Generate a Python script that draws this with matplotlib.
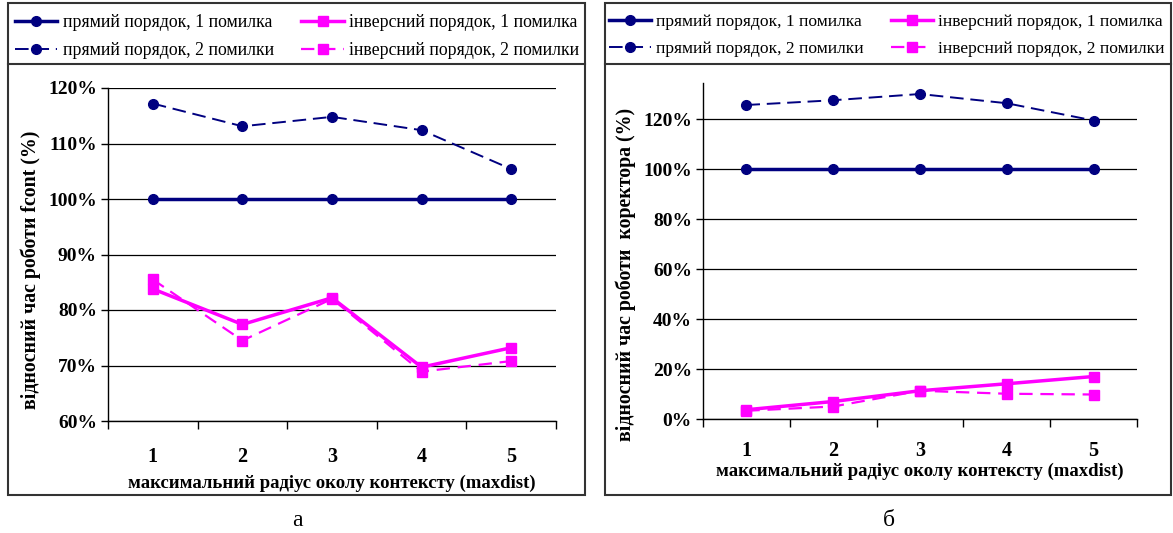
import numpy as np
import matplotlib
matplotlib.use("Agg")
import matplotlib.pyplot as plt
from matplotlib.patches import Rectangle

plt.rcParams['font.family'] = ['Liberation Serif', 'DejaVu Serif']

categories = ['1', '2', '3', '4', '5']
labels = ['прямий порядок, 1 помилка', 'прямий порядок, 2 помилки',
          'інверсний порядок, 1 помилка', 'інверсний порядок, 2 помилки']

# chart a: relative time of fcont (%)
a_direct_1 = [100, 100, 100, 100, 100]
a_direct_2 = [117.2, 113.1, 114.8, 112.4, 105.4]
a_inverse_1 = [83.8, 77.4, 82.2, 69.7, 73.2]
a_inverse_2 = [85.5, 74.5, 82.0, 68.9, 70.8]

# chart b: relative time of corrector (%)
b_direct_1 = [100, 100, 100, 100, 100]
b_direct_2 = [125.6, 127.5, 130.0, 126.3, 119.4]
b_inverse_1 = [3.7, 7.0, 11.3, 14.1, 17.0]
b_inverse_2 = [3.3, 5.0, 11.3, 10.1, 9.8]

a_yticks = [60, 70, 80, 90, 100, 110, 120]
b_yticks = [0, 20, 40, 60, 80, 100, 120]

xlabel = 'максимальний радіус околу контексту (maxdist)'
ylabel_a = 'відносний час роботи fcont (%)'
ylabel_b = 'відносний час роботи  коректора (%)'

W, H = 1173, 533
fig = plt.figure(figsize=(W / 100, H / 100), dpi=100)

NAVY = '#000080'
MAG = '#FF00FF'


def fx(px):
    return px / W


def fy(py):
    return 1 - py / H


def draw(ax, series, yticks, ylim, ylabel, tickpad, xlabelpad, ylabel_y):
    x = np.arange(len(categories))
    d1, d2, i1, i2 = series
    h = []
    h += ax.plot(x, d1, color=NAVY, lw=2.5, marker='o', ms=7, label=labels[0])
    h += ax.plot(x, d2, color=NAVY, lw=1.4, ls=(0, (7, 3.5)), marker='o', ms=7, label=labels[1])
    h += ax.plot(x, i1, color=MAG, lw=2.5, marker='s', ms=7.5, label=labels[2])
    h += ax.plot(x, i2, color=MAG, lw=1.6, ls=(0, (6, 3.5)), marker='s', ms=7.5, label=labels[3])
    ax.set_xlim(-0.5, len(categories) - 0.5)
    ax.set_ylim(*ylim)
    ax.set_xticks(np.arange(-0.5, len(categories), 1))
    ax.set_xticklabels([])
    ax.tick_params(axis='x', which='major', length=6, direction='out', width=1)
    ax.set_xticks(x, minor=True)
    ax.set_xticklabels(categories, minor=True, fontsize=14.5, fontweight='bold')
    ax.tick_params(axis='x', which='minor', length=0, pad=tickpad)
    ax.set_yticks(yticks)
    ax.set_yticklabels([f'{v}%' for v in yticks], fontsize=14, fontweight='bold')
    ax.tick_params(axis='y', length=5, direction='out', width=1, pad=3)
    ax.yaxis.grid(True, color='black', lw=0.9)
    ax.set_axisbelow(True)
    for s in ['top', 'right']:
        ax.spines[s].set_visible(False)
    for s in ['left', 'bottom']:
        ax.spines[s].set_linewidth(1.0)
    ax.set_xlabel(xlabel, fontsize=13.5, fontweight='bold', labelpad=xlabelpad)
    ax.set_ylabel(ylabel, fontsize=14.3, fontweight='bold', labelpad=5)
    ax.yaxis.label.set_y(ylabel_y)
    return h


ax1 = fig.add_axes([fx(108), fy(421), fx(556 - 108), (421 - 88) / H])
h1 = draw(ax1, (a_direct_1, a_direct_2, a_inverse_1, a_inverse_2), a_yticks, (60, 120),
          ylabel_a, tickpad=19, xlabelpad=5, ylabel_y=0.455)

ax2 = fig.add_axes([fx(703), fy(419), fx(1137 - 703), (419 - 83) / H])
h2 = draw(ax2, (b_direct_1, b_direct_2, b_inverse_1, b_inverse_2), b_yticks, (0, 134.4),
          ylabel_b, tickpad=16, xlabelpad=1, ylabel_y=0.43)

# frames
for (x0, x1) in [(8, 585), (605, 1171)]:
    fig.patches.append(Rectangle((fx(x0), fy(495)), fx(x1 - x0), (495 - 3) / H,
                                 transform=fig.transFigure, fill=False,
                                 edgecolor='#333333', lw=1.5))
    fig.add_artist(plt.Line2D([fx(x0), fx(x1)], [fy(64), fy(64)],
                              transform=fig.transFigure, color='#333333', lw=1.5))

leg_kw = dict(ncol=2, loc='upper left', frameon=False, numpoints=1,
              handlelength=2.4, handletextpad=0.3, columnspacing=1.55,
              labelspacing=0.62, borderaxespad=0, borderpad=0.55)
fig.legend(h1, labels, bbox_to_anchor=(fx(5), fy(4)), fontsize=12.8, **leg_kw)
fig.legend(h2, labels, bbox_to_anchor=(fx(599), fy(4)), fontsize=12.6, **leg_kw)

fig.text(fx(297), fy(521), 'а', fontsize=17, ha='center', va='center')
fig.text(fx(889), fy(521), 'б', fontsize=17, ha='center', va='center')

fig.savefig('out.png', dpi=100)
